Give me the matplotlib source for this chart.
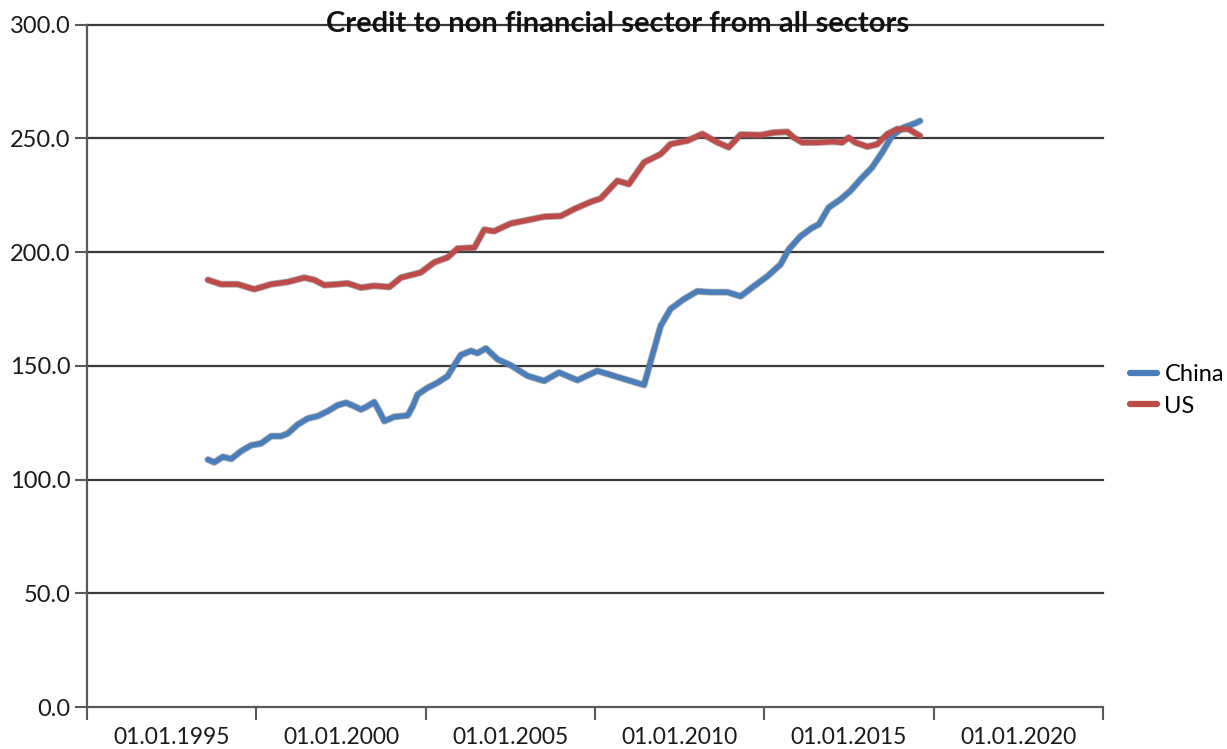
import matplotlib
matplotlib.use("Agg")
import matplotlib.pyplot as plt
import matplotlib.patheffects as pe

plt.rcParams['font.family'] = ['Lato', 'DejaVu Sans']

# Credit to the non-financial sector, % of GDP (decimal year, value)
china_years = [1996.07, 1996.26, 1996.51, 1996.76, 1997.05, 1997.35, 1997.64, 1997.94,
               1998.23, 1998.43, 1998.72, 1999.02, 1999.31, 1999.61, 1999.90, 2000.15,
               2000.39, 2000.59, 2000.79, 2000.98, 2001.13, 2001.28, 2001.57, 2001.97,
               2002.12, 2002.26, 2002.56, 2002.85, 2003.15, 2003.34, 2003.54, 2003.84,
               2004.03, 2004.28, 2004.62, 2005.01, 2005.51, 2006.00, 2006.44, 2006.98,
               2007.57, 2008.06, 2008.55, 2008.95, 2009.19, 2009.44, 2009.73, 2010.13,
               2010.52, 2010.91, 2011.41, 2011.80, 2012.19, 2012.59, 2012.98, 2013.22,
               2013.57, 2013.91, 2014.11, 2014.40, 2014.75, 2015.04, 2015.34, 2015.68,
               2015.98, 2016.27, 2016.61, 2016.96, 2017.10]
china_values = [108.8, 107.6, 110.0, 109.1, 112.5, 115.1, 115.9, 119.1,
                119.1, 120.3, 124.2, 126.9, 127.9, 130.1, 132.7, 133.8,
                132.3, 130.8, 132.3, 134.1, 130.1, 125.7, 127.6, 128.2,
                132.3, 137.4, 140.4, 142.6, 145.5, 150.2, 154.8, 156.6,
                155.6, 157.7, 152.9, 150.3, 145.6, 143.4, 147.1, 143.7,
                147.8, 145.6, 143.4, 141.6, 154.4, 167.6, 175.0, 179.4,
                182.8, 182.4, 182.4, 180.6, 185.0, 189.4, 194.6, 201.2,
                207.0, 210.7, 212.2, 219.6, 223.2, 226.9, 232.0, 237.2,
                243.8, 251.1, 254.8, 256.7, 257.7]

us_years = [1996.07, 1996.46, 1996.95, 1997.44, 1997.94, 1998.43, 1998.92, 1999.21,
            1999.51, 1999.90, 2000.20, 2000.59, 2000.98, 2001.43, 2001.77, 2002.16,
            2002.36, 2002.75, 2003.15, 2003.44, 2003.94, 2004.23, 2004.52, 2005.01,
            2005.51, 2006.00, 2006.49, 2006.88, 2007.37, 2007.67, 2008.16, 2008.50,
            2008.95, 2009.44, 2009.73, 2010.23, 2010.67, 2011.11, 2011.45, 2011.80,
            2012.09, 2012.39, 2012.78, 2013.18, 2013.37, 2013.62, 2014.06, 2014.55,
            2014.80, 2014.99, 2015.19, 2015.54, 2015.83, 2016.13, 2016.42, 2016.76,
            2017.01, 2017.10]
us_values = [187.8, 185.9, 185.9, 183.7, 185.9, 186.9, 188.8, 187.8,
             185.5, 185.9, 186.3, 184.4, 185.2, 184.7, 188.8, 190.3,
             191.1, 195.5, 197.7, 201.6, 202.0, 209.9, 209.2, 212.6,
             214.1, 215.6, 215.9, 218.9, 222.1, 223.6, 231.4, 229.9,
             239.5, 243.1, 247.5, 249.0, 252.0, 248.3, 246.1, 251.7,
             251.6, 251.5, 252.6, 252.9, 250.4, 248.2, 248.2, 248.6,
             248.2, 250.4, 248.2, 246.4, 247.4, 251.9, 254.1, 254.1,
             251.9, 251.1]

label_years = [1995, 2000, 2005, 2010, 2015, 2020]
label_texts = ["01.01.1995", "01.01.2000", "01.01.2005",
               "01.01.2010", "01.01.2015", "01.01.2020"]
y_ticks = [0, 50, 100, 150, 200, 250, 300]

fig = plt.figure(figsize=(12.27, 7.49), dpi=100)
ax = fig.add_axes([0.0709, 0.056, 0.8280, 0.911])

lw = 3.8
shadow = [pe.Stroke(linewidth=lw + 1.2, foreground="#6e6e6e", alpha=0.55), pe.Normal()]
ax.plot(china_years, china_values, color="#4a7ebb", lw=lw, label="China",
        solid_joinstyle="round", solid_capstyle="round", path_effects=shadow, zorder=3)
ax.plot(us_years, us_values, color="#be4b48", lw=lw, label="US",
        solid_joinstyle="round", solid_capstyle="round", path_effects=shadow, zorder=3)

ax.set_xlim(1992.5, 2022.5)
ax.set_ylim(0, 300)

# tick marks sit between the date labels
ax.set_xticks([1992.5 + 5 * i for i in range(7)])
ax.set_xticklabels([])
ax.set_xticks(label_years, minor=True)
ax.set_xticklabels(label_texts, minor=True)
ax.tick_params(axis="x", which="major", direction="out", length=9, width=1.5, color="#5a5a5a")
ax.tick_params(axis="x", which="minor", length=0, pad=14, labelsize=16.5, labelcolor="#1a1a1a")

ax.set_yticks(y_ticks)
ax.set_yticklabels([f"{v:.1f}" for v in y_ticks])
ax.tick_params(axis="y", direction="out", length=9, width=1.5, color="#5a5a5a",
               pad=3, labelsize=17, labelcolor="#1a1a1a")

for v in y_ticks[1:]:
    ax.axhline(v, color="#3a3a3a", lw=1.6, zorder=1, clip_on=False)

for side in ("top", "right"):
    ax.spines[side].set_visible(False)
for side in ("left", "bottom"):
    ax.spines[side].set_color("#5a5a5a")
    ax.spines[side].set_linewidth(1.6)

fig.text(0.503, 0.968, "Credit to non financial sector from all sectors",
         ha="center", va="center", fontsize=21, fontweight="bold", color="#111111", zorder=5)

leg = ax.legend(loc="center left", bbox_to_anchor=(0.9115, 0.479), bbox_transform=fig.transFigure,
                frameon=False, fontsize=17, handlelength=1.15, handletextpad=0.3,
                labelspacing=0.45, borderpad=0)
for h in leg.get_lines():
    h.set_linewidth(4.5)
    h.set_path_effects([])

fig.savefig("out.png", dpi=100)
